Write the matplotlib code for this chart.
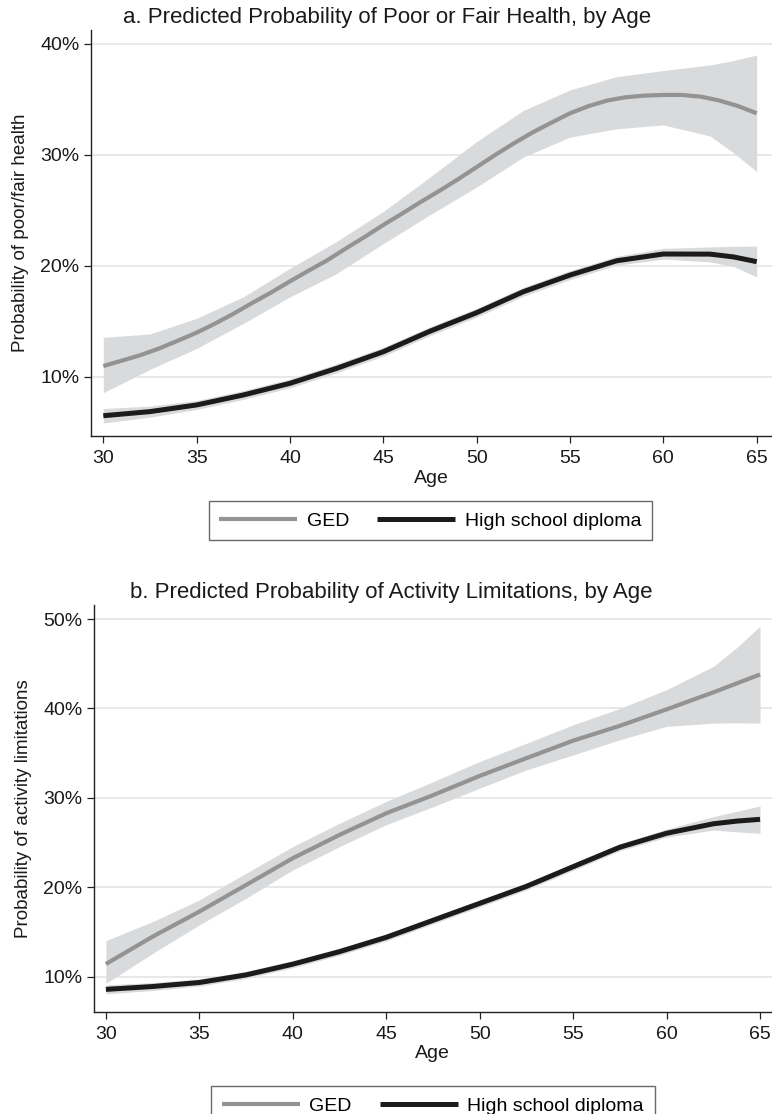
import matplotlib.pyplot as plt
import numpy as np
from matplotlib.ticker import FuncFormatter

# Werte (Prozent)

age_a_ged = np.arange(30, 66)
ged_a = np.array([10.96, 11.45, 11.95, 12.55, 13.25, 13.97, 14.8, 15.7, 16.67, 17.6,
                  18.6, 19.56, 20.5, 21.57, 22.6, 23.68, 24.7, 25.75, 26.75, 27.8,
                  28.9, 30.0, 31.05, 32.03, 32.9, 33.75, 34.4, 34.9, 35.2, 35.34,
                  35.4, 35.4, 35.25, 34.9, 34.4, 33.75])

age_ci = np.array([30, 32.5, 35, 37.5, 40, 42.5, 45, 47.5, 50, 52.5, 55, 57.5, 60, 62.5, 63.75, 65])
ged_a_hi = np.array([13.55, 13.85, 15.26, 17.2, 19.77, 22.2, 24.9, 28.0, 31.2, 34.0, 35.85, 37.05, 37.6, 38.1, 38.5, 39.0])
ged_a_lo = np.array([8.56, 10.66, 12.55, 14.8, 17.2, 19.3, 22.0, 24.6, 27.1, 29.8, 31.6, 32.35, 32.7, 31.7, 30.2, 28.5])
hs_a = np.array([6.48, 6.85, 7.45, 8.35, 9.4, 10.75, 12.25, 14.1, 15.77, 17.66, 19.16, 20.45, 21.06, 21.05, 20.8, 20.37])
hs_a_hi = np.array([7.13, 7.35, 7.85, 8.75, 9.8, 11.15, 12.65, 14.5, 16.17, 18.06, 19.56, 20.85, 21.57, 21.7, 21.75, 21.78])
hs_a_lo = np.array([5.83, 6.35, 7.05, 7.95, 9.0, 10.35, 11.85, 13.7, 15.37, 17.26, 18.76, 20.05, 20.6, 20.35, 19.95, 19.0])

# b. Activity limitations
ged_b = np.array([11.42, 14.48, 17.28, 20.26, 23.25, 25.86, 28.28, 30.3, 32.46, 34.44, 36.4, 38.06, 39.9, 41.8, 42.8, 43.8])
ged_b_hi = np.array([14.03, 16.16, 18.58, 21.57, 24.55, 27.16, 29.6, 31.8, 34.07, 36.1, 38.17, 40.0, 42.1, 44.7, 46.8, 49.2])
ged_b_lo = np.array([9.25, 12.6, 15.8, 18.77, 21.94, 24.55, 27.0, 29.0, 31.08, 33.13, 34.8, 36.5, 38.0, 38.36, 38.4, 38.36])
hs_b = np.array([8.58, 8.9, 9.35, 10.2, 11.4, 12.8, 14.4, 16.3, 18.2, 20.1, 22.3, 24.48, 26.04, 27.1, 27.4, 27.6])
hs_b_hi = np.array([9.08, 9.35, 9.75, 10.6, 11.8, 13.2, 14.8, 16.7, 18.6, 20.5, 22.7, 24.88, 26.5, 27.9, 28.5, 29.1])
hs_b_lo = np.array([8.08, 8.45, 8.95, 9.8, 11.0, 12.4, 14.0, 15.9, 17.8, 19.7, 21.9, 24.08, 25.6, 26.4, 26.2, 26.04])

xticks = [30, 35, 40, 45, 50, 55, 60, 65]

FONT = ['Liberation Sans', 'DejaVu Sans']

C_GED = '#939393'
C_HS = '#1c1a1a'
C_CI = '#d9dadc'

fig = plt.figure(figsize=(7.72, 11.14), dpi=100)
ax_a = fig.add_axes([0.1175, 0.6086, 0.8825, 0.3645])
ax_b = fig.add_axes([0.1212, 0.0918, 0.8788, 0.3651])

panels = [
    (ax_a, 'a. Predicted Probability of Poor or Fair Health, by Age', 'Probability of poor/fair health',
     age_a_ged, ged_a, ged_a_lo, ged_a_hi, hs_a, hs_a_lo, hs_a_hi,
     [10, 20, 30, 40], (4.65, 41.26), (29.325, 65.82), 0.4356),
    (ax_b, 'b. Predicted Probability of Activity Limitations, by Age', 'Probability of activity limitations',
     age_ci, ged_b, ged_b_lo, ged_b_hi, hs_b, hs_b_lo, hs_b_hi,
     [10, 20, 30, 40, 50], (6.08, 51.57), (29.34, 65.64), 0.4384),
]

for ax, title, ylab, age_g, g, glo, ghi, h, hlo, hhi, yticks, ylim, xlim, tx in panels:
    for yv in yticks:
        ax.axhline(yv, color='#e6e6e6', lw=1.3, zorder=0)
    ax.fill_between(age_ci, glo, ghi, color=C_CI, lw=0, zorder=1)
    ax.fill_between(age_ci, hlo, hhi, color=C_CI, lw=0, zorder=1)
    ax.plot(age_g, g, color=C_GED, lw=3.0, solid_capstyle='butt', solid_joinstyle='round',
            zorder=2, label='GED')
    ax.plot(age_ci, h, color=C_HS, lw=3.6, solid_capstyle='butt', solid_joinstyle='round',
            zorder=3, label='High school diploma')
    ax.set_xlim(*xlim)
    ax.set_ylim(*ylim)
    ax.set_xticks(xticks)
    ax.set_yticks(yticks)
    ax.yaxis.set_major_formatter(FuncFormatter(lambda v, p: f'{v:.0f}%'))
    for s in ['top', 'right']:
        ax.spines[s].set_visible(False)
    for s in ['left', 'bottom']:
        ax.spines[s].set_linewidth(1.0)
        ax.spines[s].set_color('#222222')
    ax.tick_params(length=5, width=0.9, color='#222222', labelsize=14)
    ax.tick_params(axis='x', pad=5)
    ax.tick_params(axis='y', pad=3)
    for lab in ax.get_xticklabels() + ax.get_yticklabels():
        lab.set_family(FONT)
        lab.set_color('#1a1a1a')
    ax.set_title(title, family=FONT, fontsize=16, pad=5, color='#1a1a1a', x=tx)
    ax.set_xlabel('Age', family=FONT, fontsize=14, labelpad=2, color='#1a1a1a')
    ax.set_ylabel(ylab, family=FONT, fontsize=13.5, labelpad=8, color='#1a1a1a')

leg_kw = dict(ncol=2, frameon=True, fancybox=False, edgecolor='#444444',
              prop={'family': FONT, 'size': 14}, handlelength=4.0,
              columnspacing=1.45, borderpad=0.55, handletextpad=0.5)
h_a, l_a = ax_a.get_legend_handles_labels()
leg = fig.legend(h_a, l_a, loc='center', bbox_to_anchor=(0.5573, 0.5324), **leg_kw)
leg.get_frame().set_linewidth(1.0)
leg2 = fig.legend(h_a, l_a, loc='upper center', bbox_to_anchor=(0.5606, 0.0335), **leg_kw)
leg2.get_frame().set_linewidth(1.0)

fig.savefig('out.png', dpi=100)
